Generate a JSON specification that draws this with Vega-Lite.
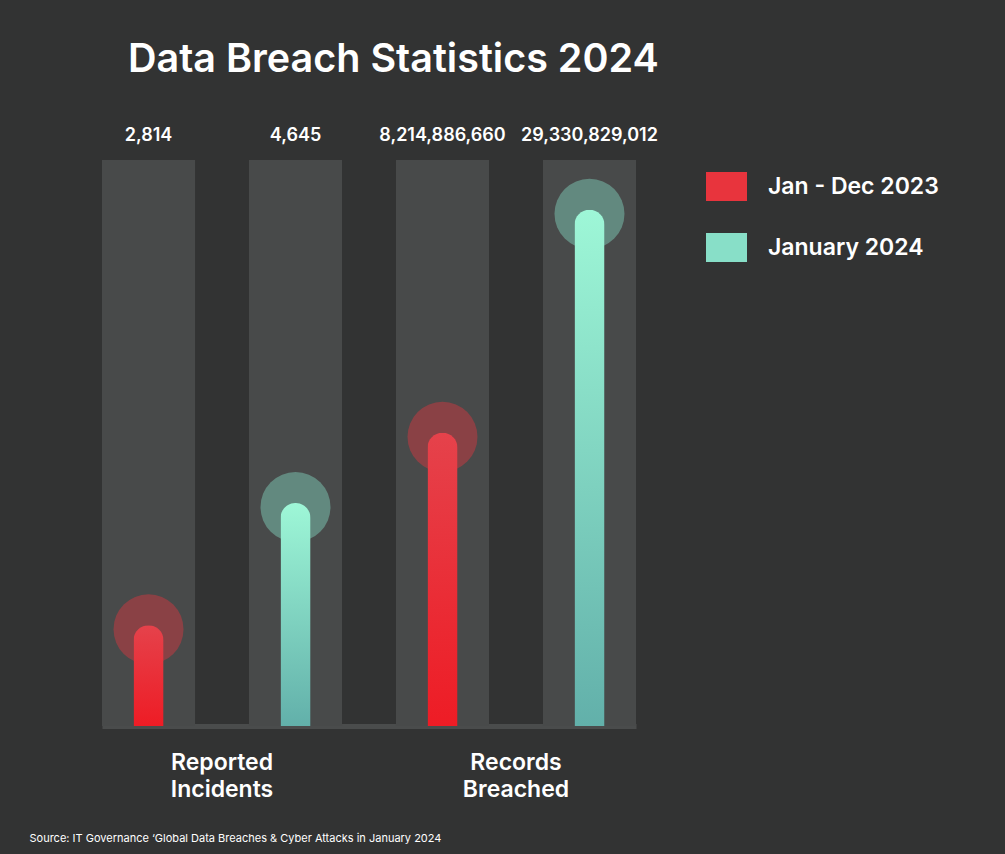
{
  "$schema": "https://vega.github.io/schema/vega-lite/v6.json",
  "width": 534,
  "height": 566,
  "autosize": {"type": "none"},
  "padding": {"left": 102, "top": 160, "right": 369, "bottom": 128},
  "background": "#323333",
  "title": {
    "text": "Data Breach Statistics 2024",
    "anchor": "start",
    "dx": 99,
    "offset": 16,
    "fontSize": 39.5,
    "fontWeight": 600,
    "font": "Inter",
    "color": "#ffffff",
    "baseline": "alphabetic"
  },
  "data": {
    "values": [
      {"bar": "Reported Incidents | Jan - Dec 2023", "group": "Reported Incidents", "series": "Jan - Dec 2023", "value": 2814, "height": 17.8},
      {"bar": "Reported Incidents | January 2024", "group": "Reported Incidents", "series": "January 2024", "value": 4645, "height": 39.4},
      {"bar": "Records Breached | Jan - Dec 2023", "group": "Records Breached", "series": "Jan - Dec 2023", "value": 8214886660, "height": 51.8},
      {"bar": "Records Breached | January 2024", "group": "Records Breached", "series": "January 2024", "value": 29330829012, "height": 91.2}
    ]
  },
  "encoding": {
    "x": {
      "field": "bar",
      "type": "nominal",
      "sort": null,
      "scale": {"paddingInner": 0.367, "paddingOuter": 0},
      "axis": {
        "title": "Source: IT Governance ‘Global Data Breaches & Cyber Attacks in January 2024",
        "titleFontSize": 11,
        "titleFontWeight": 400,
        "titleFont": "Inter",
        "titleColor": "#ffffff",
        "titleAnchor": "start",
        "titleAlign": "left",
        "titleBaseline": "middle",
        "titleX": -73,
        "titleY": 112,
        "domain": true,
        "domainColor": "#4a4c4c",
        "domainWidth": 5,
        "ticks": false,
        "labelAngle": 0,
        "labelFlush": false,
        "labelOverlap": false,
        "labelAlign": "center",
        "labelExpr": "datum.value == 'Reported Incidents | Jan - Dec 2023' ? ['Reported', 'Incidents'] : datum.value == 'Records Breached | Jan - Dec 2023' ? ['Records', 'Breached'] : ''",
        "labelOffset": 73.5,
        "labelFont": "Inter",
        "labelFontSize": 23,
        "labelFontWeight": 600,
        "labelColor": "#ffffff",
        "labelLineHeight": 27,
        "labelPadding": 36,
        "labelBaseline": "middle"
      }
    }
  },
  "layer": [
    {
      "mark": {"type": "bar", "color": "#484a4a"},
      "encoding": {
        "y": {"datum": 100, "type": "quantitative", "scale": {"domain": [0, 100], "nice": false, "zero": true}, "axis": null},
        "y2": {"datum": 0}
      }
    },
    {
      "mark": {"type": "point", "filled": true, "size": 4900, "opacity": 0.42, "yOffset": 4},
      "encoding": {
        "y": {"field": "height", "type": "quantitative"},
        "color": {
          "field": "series",
          "type": "nominal",
          "scale": {"domain": ["Jan - Dec 2023", "January 2024"], "range": ["#e8343d", "#88dfc8"]},
          "legend": {
            "title": null,
            "orient": "none",
            "legendX": 610,
            "legendY": 12,
            "padding": 0,
            "symbolType": "M-1.414,-1H1.414V1H-1.414Z",
            "symbolSize": 841,
            "symbolOpacity": 1,
            "symbolStrokeWidth": 0,
            "labelFont": "Inter",
            "labelFontSize": 23,
            "labelFontWeight": 600,
            "labelColor": "#ffffff",
            "labelOffset": 27,
            "labelLimit": 400,
            "rowPadding": 32
          }
        }
      }
    },
    {
      "transform": [{"filter": "datum.series == 'Jan - Dec 2023'"}],
      "mark": {
        "type": "bar",
        "width": {"band": 0.323},
        "cornerRadiusTopLeft": 15,
        "cornerRadiusTopRight": 15,
        "color": {"gradient": "linear", "x1": 0, "y1": 0, "x2": 0, "y2": 1, "stops": [{"offset": 0, "color": "#e5424b"}, {"offset": 1, "color": "#ee1c25"}]}
      },
      "encoding": {"y": {"field": "height", "type": "quantitative"}}
    },
    {
      "transform": [{"filter": "datum.series == 'January 2024'"}],
      "mark": {
        "type": "bar",
        "width": {"band": 0.323},
        "cornerRadiusTopLeft": 15,
        "cornerRadiusTopRight": 15,
        "color": {"gradient": "linear", "x1": 0, "y1": 0, "x2": 0, "y2": 1, "stops": [{"offset": 0, "color": "#9ef7d7"}, {"offset": 1, "color": "#62b0aa"}]}
      },
      "encoding": {"y": {"field": "height", "type": "quantitative"}}
    },
    {
      "mark": {"type": "text", "dy": -24, "font": "Inter", "fontSize": 18, "fontWeight": 600, "color": "#ffffff", "baseline": "middle"},
      "encoding": {
        "y": {"datum": 100},
        "text": {"field": "value", "type": "quantitative", "format": ","}
      }
    }
  ],
  "config": {"view": {"stroke": null}}
}
